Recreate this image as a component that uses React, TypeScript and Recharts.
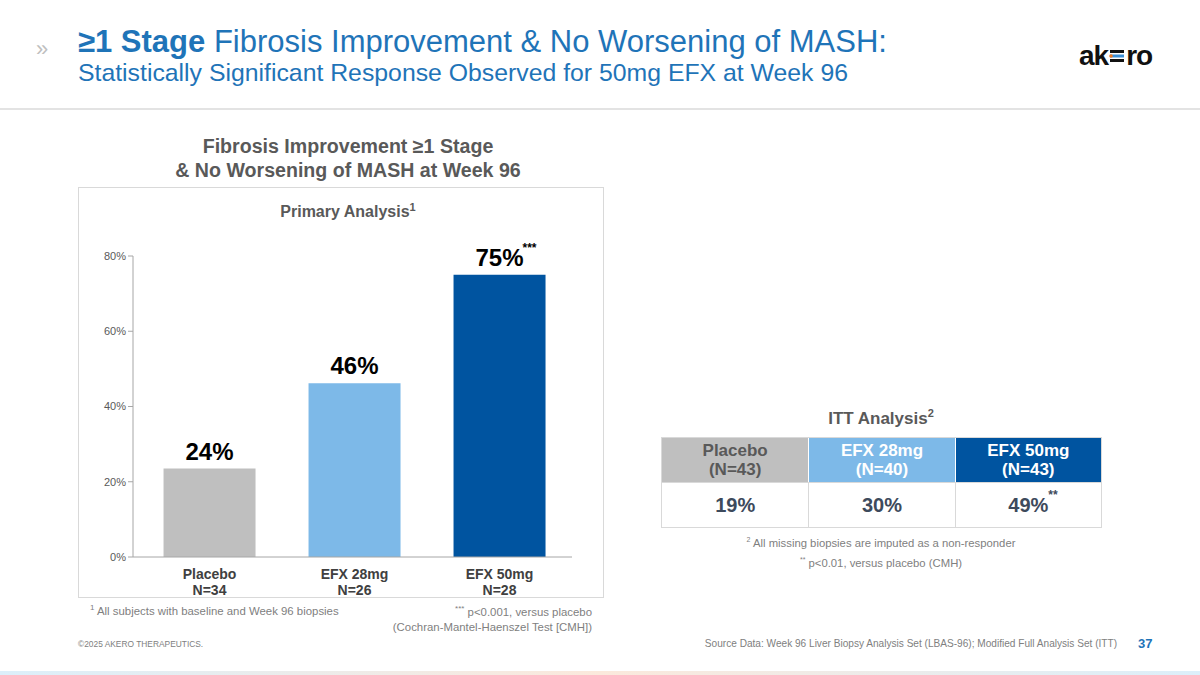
import React from "react";
import { BarChart, Bar, XAxis, YAxis, Cell, LabelList } from "recharts";

const categories = ["Placebo", "EFX 28mg", "EFX 50mg"];
const nLabels = ["N=34", "N=26", "N=28"];
const responseRates = [23.5, 46.2, 75.0];
const valueLabels = ["24%", "46%", "75%"];
const significance = ["", "", "***"];
const barColors = ["#BFBFBF", "#7DB9E8", "#0054A0"];
const yTicks = [0, 20, 40, 60, 80];

const ittGroups = ["Placebo", "EFX 28mg", "EFX 50mg"];
const ittN = ["(N=43)", "(N=40)", "(N=43)"];
const ittValues = ["19%", "30%", "49%"];
const ittSignificance = ["", "", "**"];
const ittHeaderText = ["#595959", "#FFFFFF", "#FFFFFF"];

const data = categories.map((c, i) => ({
  name: c,
  n: nLabels[i],
  value: responseRates[i],
  label: valueLabels[i],
  sig: significance[i],
}));

const FONT = "'Liberation Sans', Arial, sans-serif";
const BLUE = "#1F74B8";

const XTick = (props: any) => {
  const { x, y, payload, index } = props;
  return (
    <g transform={`translate(${x},${y})`}>
      <text x={0} y={0} textAnchor="middle" fontFamily={FONT} fontWeight="bold" fontSize={14} fill="#404040">
        <tspan x={0} dy={14}>{payload.value}</tspan>
        <tspan x={0} dy={16}>{nLabels[index]}</tspan>
      </text>
    </g>
  );
};

const BarValueLabel = (props: any) => {
  const { x, y, width, index } = props;
  const cx = x + width / 2;
  return (
    <g>
      <text x={cx} y={y - 9} textAnchor="middle" fontFamily={FONT} fontWeight="bold" fontSize={24} fill="#000">
        {valueLabels[index]}
      </text>
      {significance[index] ? (
        <text x={cx + 23} y={y - 23} textAnchor="start" fontFamily={FONT} fontWeight="bold" fontSize={12} fill="#000">
          {significance[index]}
        </text>
      ) : null}
    </g>
  );
};

const abs = (left: number, top: number, extra: React.CSSProperties = {}): React.CSSProperties => ({
  position: "absolute",
  left,
  top,
  fontFamily: FONT,
  ...extra,
});

export default function App() {
  return (
    <div style={{ position: "absolute", left: 0, top: 0, width: 1200, height: 675, background: "#fff", overflow: "hidden", fontFamily: FONT }}>
      {/* Header */}
      <div style={abs(36, 38, { fontSize: 22, color: "#BFBFBF", lineHeight: "22px" })}>»</div>
      <div style={abs(78, 24, { fontSize: 31, color: BLUE, lineHeight: "36px", whiteSpace: "nowrap" })}>
        <b>≥1 Stage</b> Fibrosis Improvement &amp; No Worsening of MASH:
      </div>
      <div style={abs(78, 58, { fontSize: 24.8, color: BLUE, lineHeight: "30px", whiteSpace: "nowrap" })}>
        Statistically Significant Response Observed for 50mg EFX at Week 96
      </div>
      {/* Logo */}
      <div style={abs(1079, 39, { fontSize: 28, fontWeight: "bold", color: "#111", lineHeight: "34px", letterSpacing: -1, display: "flex", alignItems: "center" })}>
        <span>ak</span>
        <svg width="16" height="16" viewBox="0 0 16 16" style={{ margin: "0 1px" }}>
          <rect x="1" y="2" width="14" height="3" fill="#111" />
          <rect x="1" y="6.5" width="14" height="3" fill="#3B8FD6" />
          <circle cx="2" cy="8" r="1.8" fill="#F07A22" />
          <rect x="1" y="11" width="14" height="3" fill="#111" />
        </svg>
        <span>ro</span>
      </div>
      <div style={abs(0, 108, { width: 1200, height: 2, background: "#E3E3E3" })} />

      {/* Chart title */}
      <div style={abs(78, 134, { width: 540, textAlign: "center", fontSize: 19.6, fontWeight: "bold", color: "#595959", lineHeight: "24px" })}>
        Fibrosis Improvement ≥1 Stage
        <br />
        &amp; No Worsening of MASH at Week 96
      </div>

      {/* Chart box */}
      <div style={abs(78, 187, { width: 524, height: 409, border: "1px solid #D9D9D9" })} />
      <div style={abs(78, 197, { width: 540, textAlign: "center", fontSize: 16, fontWeight: "bold", color: "#595959", lineHeight: "20px" })}>
        Primary Analysis<sup style={{ fontSize: 11 }}>1</sup>
      </div>
      <div style={abs(78, 187)}>
        <BarChart width={525} height={410} data={data} margin={{ top: 69, right: 31, bottom: 0, left: 0 }} barCategoryGap="18.3%">
          <YAxis
            domain={[0, 80]}
            ticks={yTicks}
            width={55}
            axisLine={{ stroke: "#A6A6A6" }}
            tickLine={{ stroke: "#A6A6A6" }}
            tickSize={5}
            tickFormatter={(v: number) => `${v}%`}
            tick={{ fontFamily: FONT, fontSize: 11, fill: "#595959" }}
          />
          <XAxis
            dataKey="name"
            height={40}
            axisLine={{ stroke: "#A6A6A6" }}
            tickLine={false}
            interval={0}
            padding={{ left: 4, right: 0 }}
            tick={<XTick />}
          />
          <Bar dataKey="value" isAnimationActive={false}>
            {data.map((d, i) => (
              <Cell key={d.name} fill={barColors[i]} />
            ))}
            <LabelList dataKey="label" content={<BarValueLabel />} />
          </Bar>
        </BarChart>
      </div>

      {/* Chart footnotes */}
      <div style={abs(90, 601, { fontSize: 11.4, color: "#808080", lineHeight: "14px" })}>
        <sup style={{ fontSize: 8 }}>1</sup> All subjects with baseline and Week 96 biopsies
      </div>
      <div style={abs(300, 601, { width: 292, textAlign: "right", fontSize: 11.4, color: "#808080", lineHeight: "15px" })}>
        <sup style={{ fontSize: 8 }}>***</sup> p&lt;0.001, versus placebo
        <br />
        (Cochran-Mantel-Haenszel Test [CMH])
      </div>

      {/* ITT table */}
      <div style={abs(662, 402, { width: 438, textAlign: "center", fontSize: 17, fontWeight: "bold", color: "#595959", lineHeight: "22px" })}>
        ITT Analysis<sup style={{ fontSize: 11 }}>2</sup>
      </div>
      <div style={abs(661, 437, { width: 439, border: "1px solid #D9D9D9", display: "grid", gridTemplateColumns: "1fr 1fr 1fr" })}>
        {ittGroups.map((g, i) => (
          <div
            key={g}
            style={{
              background: barColors[i],
              color: ittHeaderText[i],
              height: 44,
              display: "flex",
              flexDirection: "column",
              justifyContent: "center",
              alignItems: "center",
              fontSize: 17,
              fontWeight: "bold",
              lineHeight: "19px",
              borderLeft: i > 0 ? "1px solid #fff" : "none",
            }}
          >
            <span>{g}</span>
            <span>{ittN[i]}</span>
          </div>
        ))}
        {ittValues.map((v, i) => (
          <div
            key={i}
            style={{
              height: 44,
              display: "flex",
              justifyContent: "center",
              alignItems: "center",
              fontSize: 20,
              fontWeight: "bold",
              color: "#3D4A5C",
              borderLeft: i > 0 ? "1px solid #D9D9D9" : "none",
              borderTop: "1px solid #D9D9D9",
            }}
          >
            <span style={{ position: "relative" }}>
              {v}
              {ittSignificance[i] ? (
                <span style={{ position: "absolute", left: "100%", top: -6, fontSize: 12 }}>{ittSignificance[i]}</span>
              ) : null}
            </span>
          </div>
        ))}
      </div>
      <div style={abs(662, 533, { width: 438, textAlign: "center", fontSize: 11.3, color: "#808080", lineHeight: "14px" })}>
        <sup style={{ fontSize: 7 }}>2</sup> All missing biopsies are imputed as a non-responder
      </div>
      <div style={abs(662, 553, { width: 438, textAlign: "center", fontSize: 11.3, color: "#808080", lineHeight: "14px" })}>
        <sup style={{ fontSize: 7 }}>**</sup> p&lt;0.01, versus placebo (CMH)
      </div>

      {/* Footer */}
      <div style={abs(78, 639, { fontSize: 8.4, color: "#808080", lineHeight: "11px" })}>©2025 AKERO THERAPEUTICS.</div>
      <div style={abs(600, 637, { width: 517, textAlign: "right", fontSize: 10.1, color: "#808080", lineHeight: "13px" })}>
        Source Data: Week 96 Liver Biopsy Analysis Set (LBAS-96); Modified Full Analysis Set (ITT)
      </div>
      <div style={abs(1138, 636, { fontSize: 13, fontWeight: "bold", color: BLUE, lineHeight: "15px" })}>37</div>
      <div
        style={abs(0, 671, {
          width: 1200,
          height: 4,
          background: "linear-gradient(to right, #DCEFFA 0%, #FBE9DC 50%, #DCEFFA 100%)",
        })}
      />
    </div>
  );
}
